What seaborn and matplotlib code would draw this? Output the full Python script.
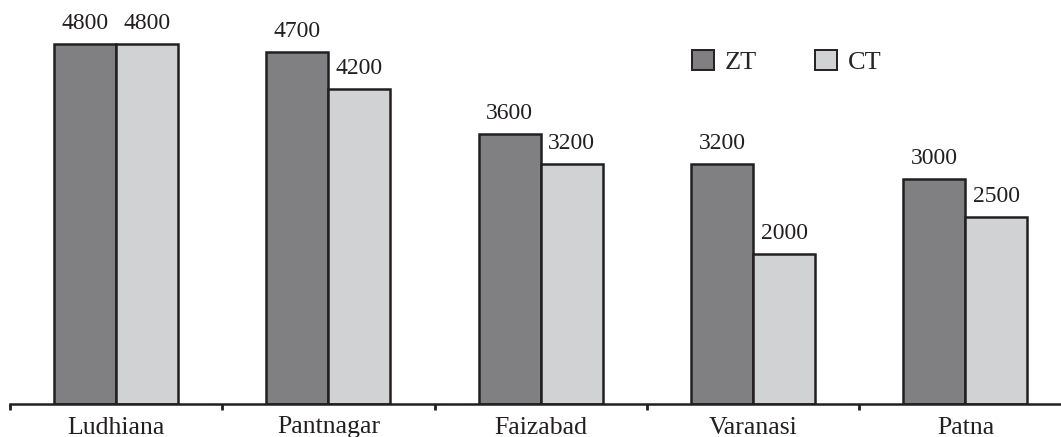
import pandas as pd
import matplotlib.pyplot as plt
from matplotlib.patches import Patch
import seaborn as sns

# datos
ciudades = ["Ludhiana", "Pantnagar", "Faizabad", "Varanasi", "Patna"]
zt = [4800, 4700, 3600, 3200, 3000]
ct = [4800, 4200, 3200, 2000, 2500]
series = ["ZT", "CT"]
colores = ["#808083", "#d1d2d4"]

df = pd.DataFrame({"ciudad": ciudades * 2,
                   "trat": ["ZT"] * len(ciudades) + ["CT"] * len(ciudades),
                   "valor": zt + ct})

sns.set_style("white")
plt.rcParams["font.family"] = ["Liberation Serif", "DejaVu Serif"]

fig = plt.figure(figsize=(10.61, 4.37), dpi=100)
ax = fig.add_axes([10 / 1061, 33 / 437, 1 - 10 / 1061, 1 - 33 / 437])

sns.barplot(data=df, x="ciudad", y="valor", hue="trat", hue_order=series,
            palette=colores, width=0.584, edgecolor="#231f20", linewidth=1.8,
            saturation=1, legend=False, ax=ax)

for cont in ax.containers:
    ax.bar_label(cont, padding=7, fontsize=17, color="#231f20")

ax.set_xlim(-0.5, 4.45)
ax.set_ylim(0, 5387)
ax.set_xlabel("")
ax.set_ylabel("")
ax.set_yticks([])
for s in ["left", "top", "right"]:
    ax.spines[s].set_visible(False)
ax.spines["bottom"].set_linewidth(1.8)
ax.spines["bottom"].set_color("#231f20")

ax.set_xticks(range(len(ciudades)))
ax.set_xticklabels(ciudades, fontsize=18.5, color="#231f20")
ax.tick_params(axis="x", which="major", length=0, pad=9)
ax.set_xticks([i - 0.5 for i in range(len(ciudades))], minor=True)
ax.tick_params(axis="x", which="minor", length=4, width=2, color="#231f20",
               direction="out", bottom=True)

handles = [Patch(facecolor=c, edgecolor="#231f20", linewidth=1.4) for c in colores]
fig.legend(handles, series, loc="center left", bbox_to_anchor=(0.652, 0.858),
           ncol=2, frameon=False, fontsize=19, handlelength=0.85, handleheight=0.77,
           handletextpad=0.4, columnspacing=2.2, borderpad=0, borderaxespad=0)

fig.savefig("out.png", dpi=100)
